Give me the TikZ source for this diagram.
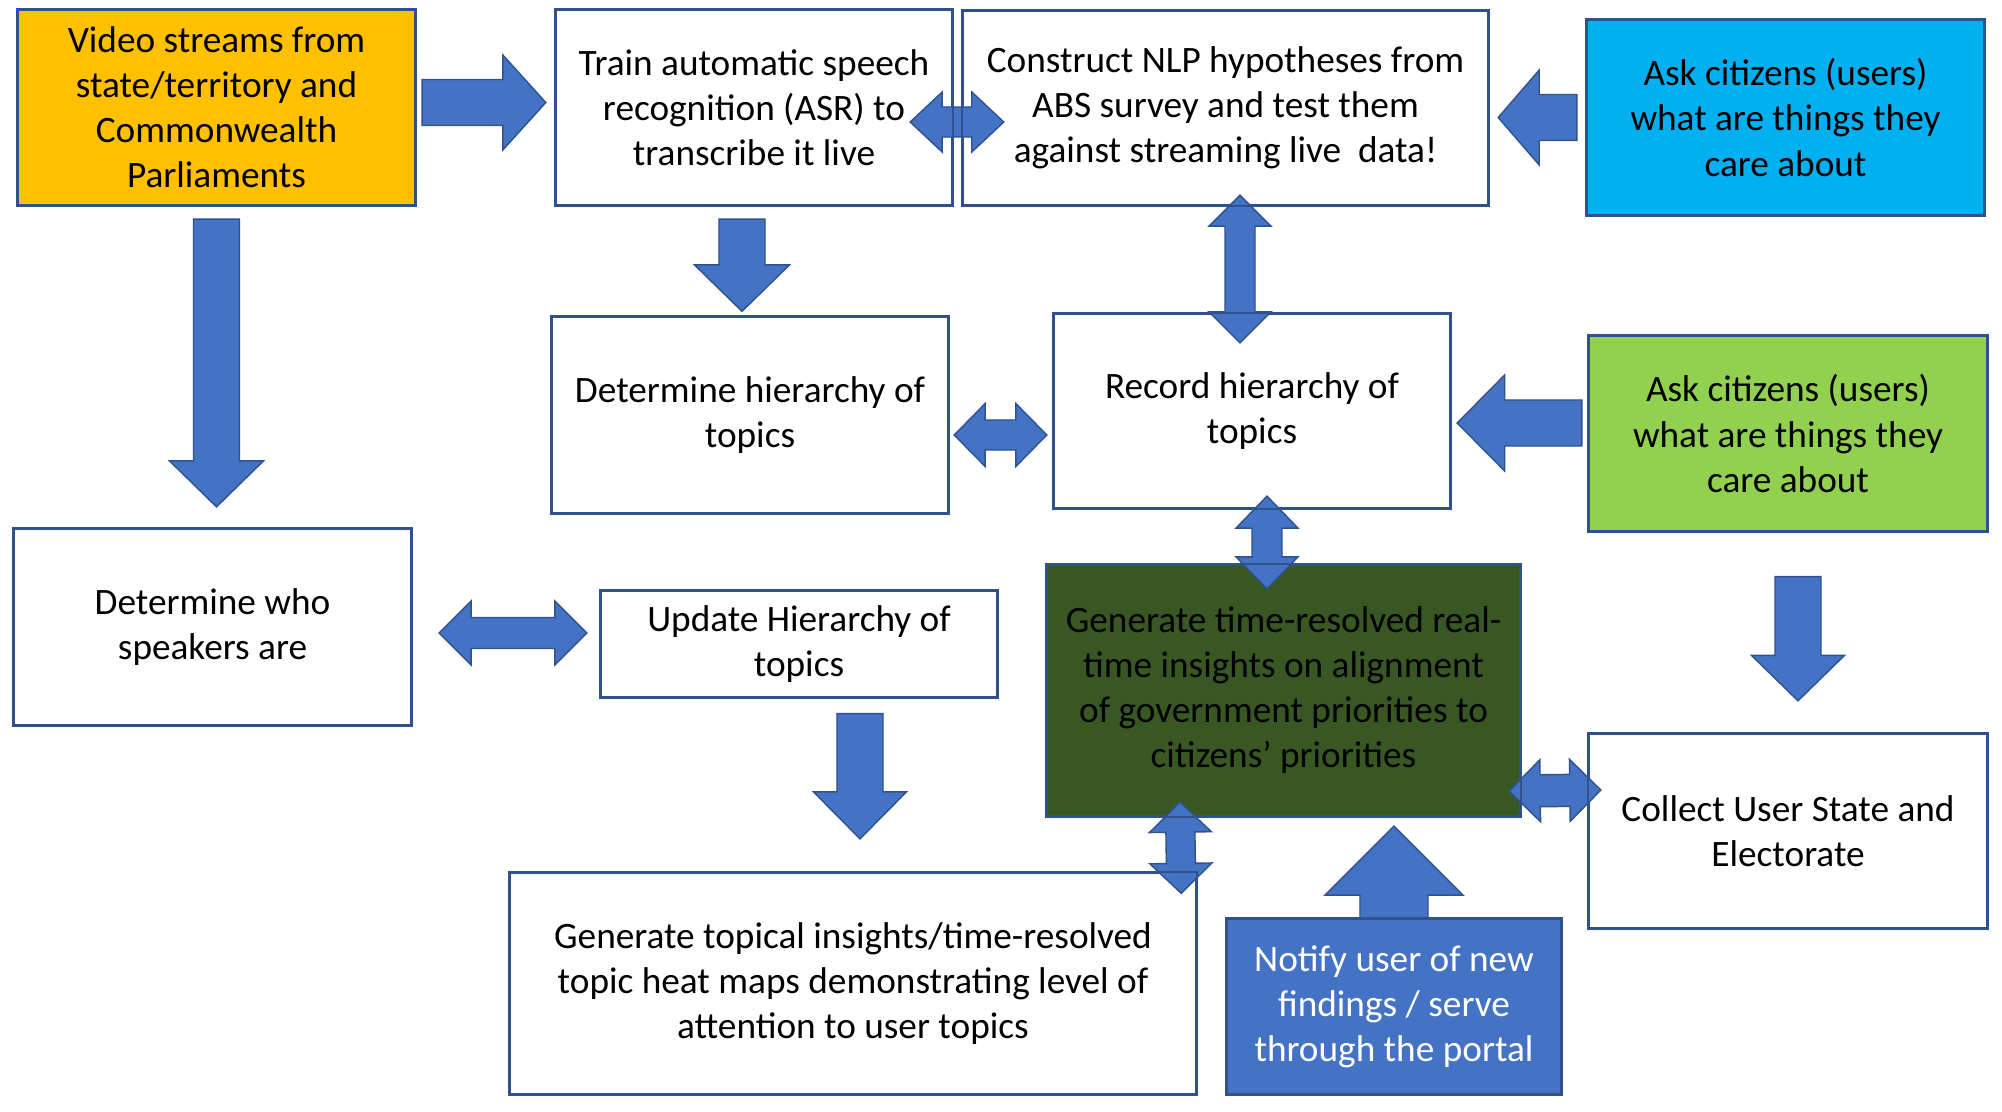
\documentclass[tikz,border=0pt]{standalone}
\usepackage{fontspec}
\setmainfont{Carlito}
\usetikzlibrary{calc}
\definecolor{boxline}{HTML}{2F528F}
\definecolor{arrowblue}{HTML}{4472C4}
\definecolor{amber}{HTML}{FFC000}
\definecolor{skyblue}{HTML}{00B0F0}
\definecolor{leafgreen}{HTML}{92D050}
\definecolor{darkgreen}{HTML}{385723}

% block arrow: start, tip, shaft half width, head half width, head length
\newcommand{\blockarrow}[5]{%
  \coordinate (ba1) at #1;
  \coordinate (ba2) at #2;
  \coordinate (bab) at ($(ba2)!#5!(ba1)$);
  \draw[blockfill] ($(ba1)!#3!90:(ba2)$) -- ($(bab)!#3!-90:(ba1)$)
    -- ($(bab)!#4!-90:(ba1)$) -- (ba2) -- ($(bab)!#4!90:(ba1)$)
    -- ($(bab)!#3!90:(ba1)$) -- ($(ba1)!#3!-90:(ba2)$) -- cycle;
}
% double block arrow: tip, tip, shaft half width, head half width, head length
\newcommand{\dblockarrow}[5]{%
  \coordinate (da1) at #1;
  \coordinate (da2) at #2;
  \coordinate (dab1) at ($(da1)!#5!(da2)$);
  \coordinate (dab2) at ($(da2)!#5!(da1)$);
  \draw[blockfill] (da1) -- ($(dab1)!#4!90:(da2)$) -- ($(dab1)!#3!90:(da2)$)
    -- ($(dab2)!#3!-90:(da1)$) -- ($(dab2)!#4!-90:(da1)$) -- (da2)
    -- ($(dab2)!#4!90:(da1)$) -- ($(dab2)!#3!90:(da1)$)
    -- ($(dab1)!#3!-90:(da2)$) -- ($(dab1)!#4!-90:(da2)$) -- cycle;
}

\begin{document}
\begin{tikzpicture}[x=0.01cm, y=-0.01cm,
  procbox/.style={draw=boxline, line width=0.6pt, fill=white, rectangle,
    align=center, inner sep=0pt, font=\fontsize{10.6}{12.8}\selectfont},
  blockfill/.style={fill=arrowblue, draw=boxline, line width=0.4pt}]

\useasboundingbox (0,0) rectangle (2002,1112);

% ----------------------
% Top row
% ----------------------
\node[procbox, fill=amber, minimum width=3.97cm, minimum height=1.95cm]
  (video) at (216.5,107.5)
  {Video streams from\\state/territory and\\Commonwealth\\Parliaments};

\node[procbox, minimum width=3.96cm, minimum height=1.95cm]
  (train) at (754,107.5)
  {Train automatic speech\\recognition (ASR) to\\transcribe it live};

\node[procbox, minimum width=5.25cm, minimum height=1.94cm]
  (construct) at (1225.5,108)
  {Construct NLP hypotheses from\\ABS survey and test them\\against streaming live\ \ data!};

\node[procbox, fill=skyblue, minimum width=3.97cm, minimum height=1.95cm]
  (askblue) at (1785.5,117.5)
  {Ask citizens (users)\\what are things they\\care about};

% ----------------------
% Middle row
% ----------------------
\node[procbox, minimum width=3.96cm, minimum height=1.96cm]
  (dethier) at (750,415)
  {Determine hierarchy of\\topics};

\node[procbox, minimum width=3.96cm, minimum height=1.94cm]
  (record) at (1252,411)
  {Record hierarchy of\\topics};

\node[procbox, fill=leafgreen, minimum width=3.98cm, minimum height=1.95cm]
  (askgreen) at (1788,433.5)
  {Ask citizens (users)\\what are things they\\care about};

\node[procbox, minimum width=3.97cm, minimum height=1.96cm]
  (detwho) at (212.5,627)
  {Determine who\\speakers are};

\node[procbox, minimum width=3.96cm, minimum height=1.06cm]
  (update) at (799,644)
  {Update Hierarchy of\\topics};

\node[procbox, fill=darkgreen, minimum width=4.73cm, minimum height=2.51cm]
  (insight) at (1283.5,690.5)
  {Generate time-resolved real-\\time insights on alignment\\of government priorities to\\citizens’ priorities};

% ----------------------
% Bottom row
% ----------------------
\node[procbox, minimum width=6.86cm, minimum height=2.21cm]
  (topical) at (853,983.5)
  {Generate topical insights/time-resolved\\topic heat maps demonstrating level of\\attention to user topics};

\node[procbox, fill=arrowblue, text=white, minimum width=3.34cm, minimum height=1.75cm]
  (notify) at (1394,1006.5)
  {Notify user of new\\findings / serve\\through the portal};

\node[procbox, minimum width=3.98cm, minimum height=1.94cm]
  (collect) at (1788,831)
  {Collect User State and\\Electorate};

% ----------------------
% Block arrows
% ----------------------
\blockarrow{($(video.east)+(6,-5)$)}{($(train.west)+(-9,-5)$)}{0.23cm}{0.475cm}{0.43cm}
\dblockarrow{($(train.east)+(-43,14.5)$)}{($(construct.west)+(42,14)$)}{0.15cm}{0.30cm}{0.32cm}
\blockarrow{($(video.south)+(0,13)$)}{($(detwho.north)+(4,-21)$)}{0.23cm}{0.47cm}{0.46cm}
\blockarrow{($(train.south)+(-12,13)$)}{($(dethier.north)+(-8,-4.5)$)}{0.23cm}{0.475cm}{0.465cm}
\dblockarrow{($(construct.south)+(14.5,-11)$)}{($(record.north)+(-12,30)$)}{0.15cm}{0.31cm}{0.31cm}
\blockarrow{($(askblue.west)+(-9,0)$)}{($(construct.east)+(9,9.5)$)}{0.23cm}{0.475cm}{0.41cm}
\dblockarrow{($(dethier.east)+(5,20)$)}{($(record.west)+(-6,24)$)}{0.15cm}{0.315cm}{0.31cm}
\blockarrow{($(askgreen.west)+(-6,-10.5)$)}{($(record.east)+(6,12)$)}{0.23cm}{0.48cm}{0.475cm}
\dblockarrow{($(record.south)+(15,-13)$)}{($(insight.north)+(-16.5,25)$)}{0.15cm}{0.31cm}{0.32cm}
\dblockarrow{($(detwho.east)+(27,6)$)}{($(update.west)+(-13,-11)$)}{0.155cm}{0.32cm}{0.32cm}
\blockarrow{($(update.south)+(61,15.5)$)}{($(topical.north)+(7,-33)$)}{0.23cm}{0.465cm}{0.47cm}
\dblockarrow{($(insight.south)+(-103.5,-15)$)}{($(topical.north east)+(-16,21.5)$)}{0.145cm}{0.31cm}{0.30cm}
\dblockarrow{($(insight.south east)+(-12,-26)$)}{($(collect.west)+(13,-41)$)}{0.16cm}{0.31cm}{0.31cm}
\blockarrow{(notify.north)}{($(insight.south)+(110.5,9)$)}{0.34cm}{0.69cm}{0.69cm}
\blockarrow{($(askgreen.south)+(10,44.5)$)}{($(collect.north)+(10,-32)$)}{0.23cm}{0.465cm}{0.455cm}

% box outlines on top of the arrows
\foreach \n in {video,train,construct,askblue,dethier,record,askgreen,
                detwho,update,insight,topical,notify,collect}
  \draw[boxline, line width=0.6pt] (\n.south west) rectangle (\n.north east);

\end{tikzpicture}
\end{document}
